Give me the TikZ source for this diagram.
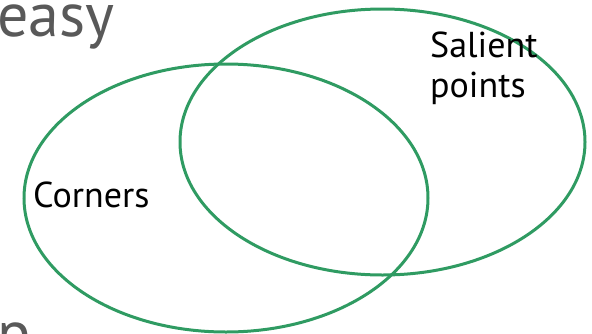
\documentclass[tikz,border=0pt]{standalone}
\usepackage{fontspec}
\setmainfont{PT Sans}
\usetikzlibrary{shapes.geometric, positioning}
\definecolor{setgreen}{RGB}{47, 155, 98}
\definecolor{titlegray}{RGB}{89, 89, 89}
\tikzstyle{setring} = [ellipse, draw=setgreen, line width=3pt, inner sep=0pt]
\tikzstyle{setlabel} = [inner sep=0pt, anchor=base west, align=left,
                        font=\fontsize{36}{40}\selectfont]
\tikzstyle{heading} = [inner sep=0pt, anchor=base west, text=titlegray,
                       font=\fontsize{62}{64}\selectfont]

\begin{document}
\begin{tikzpicture}[x=1pt, y=-1pt]
  \useasboundingbox (0,0) rectangle (592,333);
  \clip (0,0) rectangle (592,333);

  % cropped slide text
  \node (easy) [heading] at (-3,36) {easy};
  \node (pcut) [heading] at (-3,354) {p};

  % the two sets
  \node (corners) [setring, minimum width=404pt, minimum height=268pt] at (226,198) {};
  \node (salient) [setring, minimum width=405pt, minimum height=266pt] at (382.5,142) {};

  % Labels
  \node (cornerstext) [setlabel] at (33,207) {Corners};
  \node (salienttext) [setlabel] at (430,97) {Salient\\points};
\end{tikzpicture}
\end{document}
